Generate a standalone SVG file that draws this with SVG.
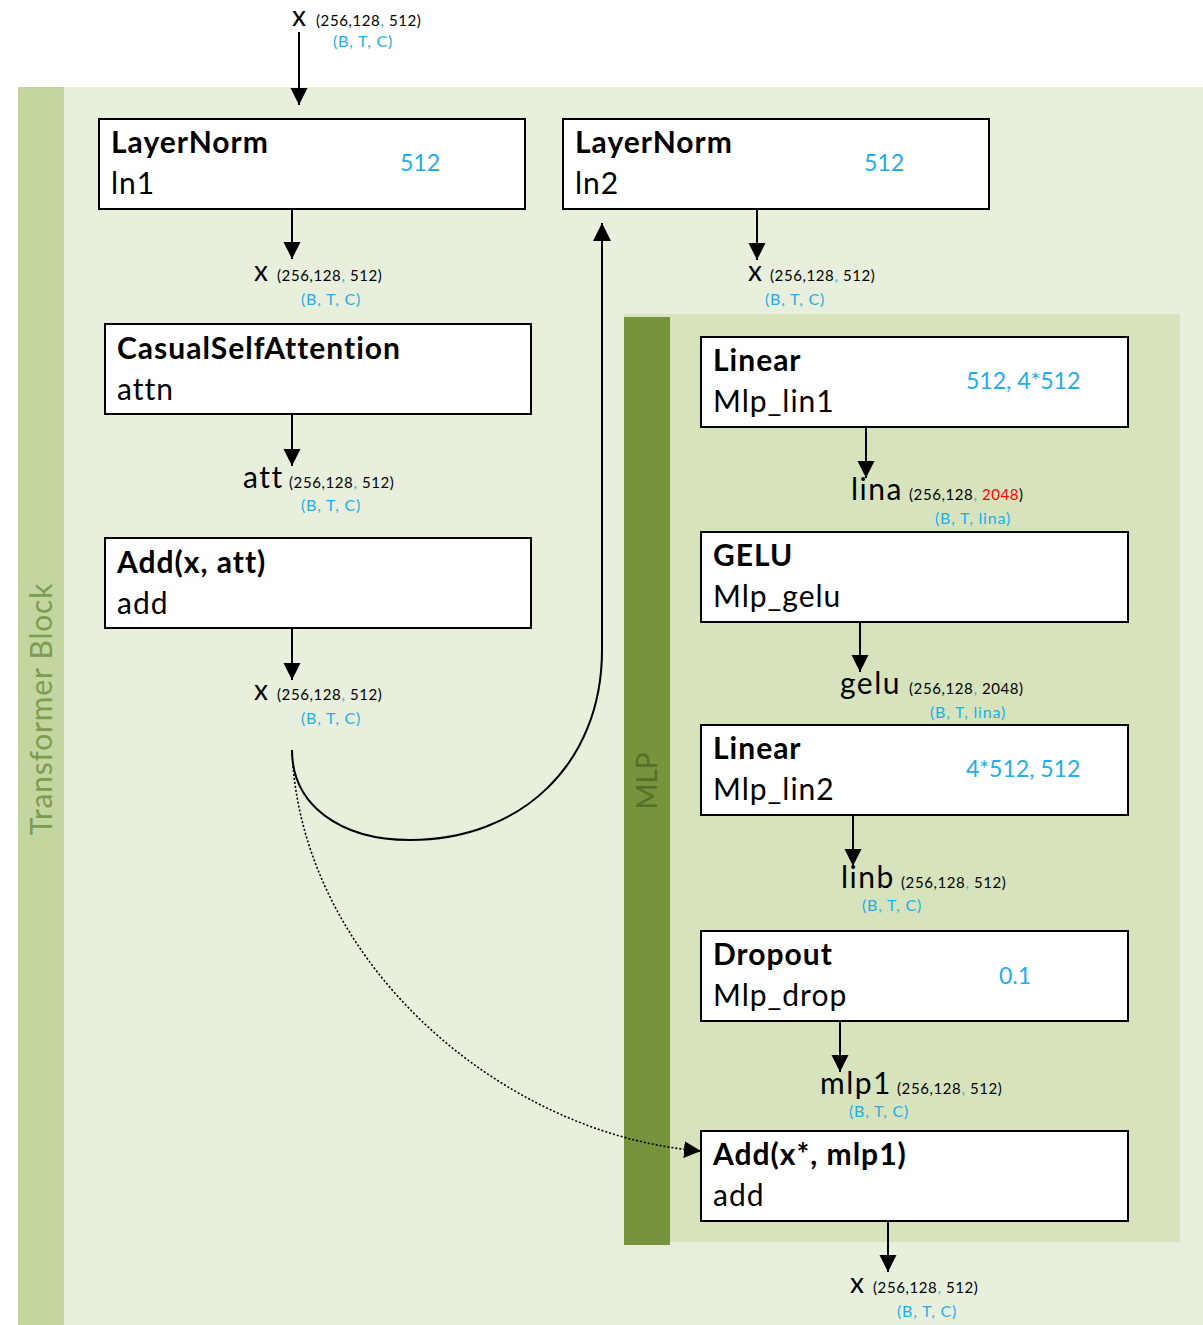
<svg xmlns="http://www.w3.org/2000/svg" width="1203" height="1325" viewBox="0 0 1203 1325">
  <style>
    text { font-family: Lato, "Open Sans", "Liberation Sans", sans-serif; }
    .box { fill: #ffffff; stroke: #000000; stroke-width: 2; }
    .title { font-size: 30px; font-weight: bold; fill: #000; letter-spacing: 1px; }
    .name { font-size: 30px; fill: #000; letter-spacing: 1px; }
    .param { font-size: 23px; fill: #1eaee8; }
    .var { font-size: 30px; fill: #000; letter-spacing: 1.5px; }
    .xv { font-size: 28px; fill: #000; }
    .shape { font-size: 15px; fill: #000; letter-spacing: 0.6px; }
    .dims { font-size: 16px; fill: #1eaee8; letter-spacing: 0.8px; }
    .blue { fill: #1eaee8; }
    .red { fill: #ff0000; }
    .conn { fill: none; stroke: #000; stroke-width: 2; }
    .dotted { fill: none; stroke: #000; stroke-width: 1.6; stroke-dasharray: 2 2; }
  </style>
  <defs>
    <marker id="arrow" viewBox="0 0 10 10" refX="10" refY="5" markerWidth="17" markerHeight="18" markerUnits="userSpaceOnUse" orient="auto">
      <path d="M0,0 L10,5 L0,10 z" fill="#000"/>
    </marker>
    <marker id="arrow-long" viewBox="0 0 10 10" refX="10" refY="5" markerWidth="26" markerHeight="18" markerUnits="userSpaceOnUse" orient="auto">
      <path d="M0,0 L10,5 L0,10 z" fill="#000"/>
    </marker>
  </defs>

  <rect x="0" y="0" width="1203" height="1325" fill="#ffffff"/>

  <!-- Transformer block background -->
  <g id="transformer-block">
    <rect x="18" y="87" width="1185" height="1238" fill="#e9efdd"/>
    <rect x="18" y="87" width="46" height="1238" fill="#c4d6a0"/>
    <text transform="translate(52,709) rotate(-90)" text-anchor="middle" font-size="30" letter-spacing="0.8" fill="#7c9c52">Transformer Block</text>
  </g>

  <!-- MLP sub-block background -->
  <g id="mlp-block">
    <rect x="624" y="314" width="556" height="928" fill="#d7e3bc"/>
    <rect x="624" y="317" width="46" height="928" fill="#77933c"/>
    <text transform="translate(657,781) rotate(-90)" text-anchor="middle" font-size="28" fill="#55702a">MLP</text>
  </g>

  <!-- Connectors -->
  <g id="connectors">
    <line class="conn" x1="299" y1="32" x2="299" y2="105" marker-end="url(#arrow)"/>
    <line class="conn" x1="292" y1="209" x2="292" y2="259" marker-end="url(#arrow)"/>
    <line class="conn" x1="292" y1="414" x2="292" y2="466" marker-end="url(#arrow)"/>
    <line class="conn" x1="292" y1="628" x2="292" y2="680" marker-end="url(#arrow)"/>
    <line class="conn" x1="757" y1="209" x2="757" y2="260" marker-end="url(#arrow)"/>
    <line class="conn" x1="866" y1="427" x2="866" y2="478" marker-end="url(#arrow)"/>
    <line class="conn" x1="860" y1="622" x2="860" y2="672" marker-end="url(#arrow)"/>
    <line class="conn" x1="853" y1="815" x2="853" y2="866" marker-end="url(#arrow)"/>
    <line class="conn" x1="840" y1="1021" x2="840" y2="1072" marker-end="url(#arrow)"/>
    <line class="conn" x1="888" y1="1221" x2="888" y2="1272" marker-end="url(#arrow)"/>
    <!-- residual into ln2 -->
    <path class="conn" d="M292,750 C292,805 340,840 410,840 C520,840 602,765 602,650 L602,223" marker-end="url(#arrow-long)"/>
    <!-- skip connection x* into final add -->
    <path class="dotted" d="M292,750 C300,960 500,1135 701,1151" marker-end="url(#arrow)"/>
  </g>

  <!-- Input label -->
  <g id="input-x">
    <text x="292" y="26" class="xv">x</text>
    <text x="316" y="26" class="shape">(256,128<tspan class="blue">,</tspan> 512)</text>
    <text x="333" y="47" class="dims">(B, T, C)</text>
  </g>

  <g id="ln1">
    <rect class="box" x="99" y="119" width="426" height="90"/>
    <text x="111" y="153" class="title">LayerNorm</text>
    <text x="111" y="194" class="name">ln1</text>
    <text x="400" y="171" class="param">512</text>
  </g>

  <g id="label-x1">
    <text x="254" y="281" class="xv">x</text>
    <text x="277" y="281" class="shape">(256,128<tspan class="blue">,</tspan> 512)</text>
    <text x="301" y="305" class="dims">(B, T, C)</text>
  </g>

  <g id="attn">
    <rect class="box" x="105" y="324" width="426" height="90"/>
    <text x="117" y="359" class="title">CasualSelfAttention</text>
    <text x="117" y="400" class="name">attn</text>
  </g>

  <g id="label-att">
    <text x="243" y="488" class="var">att</text>
    <text x="289" y="488" class="shape">(256,128<tspan class="blue">,</tspan> 512)</text>
    <text x="301" y="511" class="dims">(B, T, C)</text>
  </g>

  <g id="add">
    <rect class="box" x="105" y="538" width="426" height="90"/>
    <text x="117" y="573" class="title">Add(x, att)</text>
    <text x="117" y="614" class="name">add</text>
  </g>

  <g id="label-x2">
    <text x="254" y="700" class="xv">x</text>
    <text x="277" y="700" class="shape">(256,128<tspan class="blue">,</tspan> 512)</text>
    <text x="301" y="724" class="dims">(B, T, C)</text>
  </g>

  <g id="ln2">
    <rect class="box" x="563" y="119" width="426" height="90"/>
    <text x="575" y="153" class="title">LayerNorm</text>
    <text x="575" y="194" class="name">ln2</text>
    <text x="864" y="171" class="param">512</text>
  </g>

  <g id="label-x3">
    <text x="748" y="281" class="xv">x</text>
    <text x="770" y="281" class="shape">(256,128<tspan class="blue">,</tspan> 512)</text>
    <text x="765" y="305" class="dims">(B, T, C)</text>
  </g>

  <g id="mlp-lin1">
    <rect class="box" x="701" y="337" width="427" height="90"/>
    <text x="713" y="371" class="title">Linear</text>
    <text x="713" y="412" class="name">Mlp_lin1</text>
    <text x="966" y="389" class="param">512, 4*512</text>
  </g>

  <g id="label-lina">
    <text x="851" y="500" class="var">lina</text>
    <text x="909" y="500" class="shape">(256,128<tspan class="blue">,</tspan> <tspan class="red">2048</tspan>)</text>
    <text x="935" y="524" class="dims">(B, T, lina)</text>
  </g>

  <g id="mlp-gelu">
    <rect class="box" x="701" y="532" width="427" height="90"/>
    <text x="713" y="566" class="title">GELU</text>
    <text x="713" y="607" class="name">Mlp_gelu</text>
  </g>

  <g id="label-gelu">
    <text x="840" y="694" class="var">gelu</text>
    <text x="909" y="694" class="shape">(256,128<tspan class="blue">,</tspan> 2048)</text>
    <text x="930" y="718" class="dims">(B, T, lina)</text>
  </g>

  <g id="mlp-lin2">
    <rect class="box" x="701" y="725" width="427" height="90"/>
    <text x="713" y="759" class="title">Linear</text>
    <text x="713" y="800" class="name">Mlp_lin2</text>
    <text x="966" y="777" class="param">4*512, 512</text>
  </g>

  <g id="label-linb">
    <text x="841" y="888" class="var">linb</text>
    <text x="901" y="888" class="shape">(256,128<tspan class="blue">,</tspan> 512)</text>
    <text x="862" y="911" class="dims">(B, T, C)</text>
  </g>

  <g id="mlp-drop">
    <rect class="box" x="701" y="931" width="427" height="90"/>
    <text x="713" y="965" class="title">Dropout</text>
    <text x="713" y="1006" class="name">Mlp_drop</text>
    <text x="999" y="984" class="param">0.1</text>
  </g>

  <g id="label-mlp1">
    <text x="820" y="1094" class="var">mlp1</text>
    <text x="897" y="1094" class="shape">(256,128<tspan class="blue">,</tspan> 512)</text>
    <text x="849" y="1117" class="dims">(B, T, C)</text>
  </g>

  <g id="add2">
    <rect class="box" x="701" y="1131" width="427" height="90"/>
    <text x="713" y="1165" class="title">Add(x*, mlp1)</text>
    <text x="713" y="1206" class="name">add</text>
  </g>

  <g id="output-x">
    <text x="850" y="1293" class="xv">x</text>
    <text x="873" y="1293" class="shape">(256,128<tspan class="blue">,</tspan> 512)</text>
    <text x="897" y="1317" class="dims">(B, T, C)</text>
  </g>
</svg>
